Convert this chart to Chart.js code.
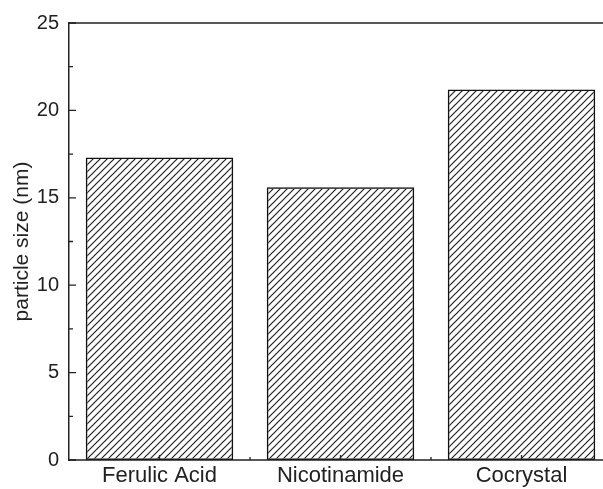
<!DOCTYPE html>
<html>
<head>
<meta charset="utf-8">
<script src="https://cdn.jsdelivr.net/npm/chart.js@4"></script>
<style>
  html, body { margin: 0; padding: 0; background: #fff; overflow: hidden; }
  #wrap { width: 603px; height: 489px; overflow: hidden; }
</style>
</head>
<body>
<div id="wrap"><canvas id="sizeChart" width="620" height="489"></canvas></div>
<script>
const categories = ['Ferulic Acid', 'Nicotinamide', 'Cocrystal'];
const particleSize = [17.3, 15.6, 21.2];
const yTicks = [0, 5, 10, 15, 20, 25];

const axisColor = '#222';
const font = "Arial, 'Liberation Sans', sans-serif";

// diagonal hatch ( / ) for the bars
function makeHatch() {
    const s = 7;
    const c = document.createElement('canvas');
    c.width = s; c.height = s;
    const g = c.getContext('2d');
    g.strokeStyle = '#222';
    g.lineWidth = 1.2;
    g.beginPath();
    g.moveTo(0, s); g.lineTo(s, 0);
    g.moveTo(-1, 1); g.lineTo(1, -1);
    g.moveTo(s - 1, s + 1); g.lineTo(s + 1, s - 1);
    g.stroke();
    return g.createPattern(c, 'repeat');
}

// inward tick marks + top frame line
const frameTicks = {
    id: 'frameTicks',
    afterDraw(chart) {
        const { ctx, chartArea: a, scales: { x, y } } = chart;
        ctx.save();
        ctx.strokeStyle = axisColor;
        ctx.lineWidth = 1.5;
        ctx.beginPath();
        ctx.moveTo(a.left, a.top); ctx.lineTo(a.right + 20, a.top);
        ctx.moveTo(a.left, a.bottom); ctx.lineTo(a.right + 20, a.bottom);
        ctx.stroke();
        ctx.lineWidth = 1.3;
        ctx.beginPath();
        yTicks.forEach(v => {
            const py = y.getPixelForValue(v);
            ctx.moveTo(a.left, py); ctx.lineTo(a.left + 7, py);
            if (v < 25) {
                const pm = y.getPixelForValue(v + 2.5);
                ctx.moveTo(a.left, pm); ctx.lineTo(a.left + 4, pm);
            }
        });
        categories.forEach((c, i) => {
            const px = x.getPixelForValue(i);
            ctx.moveTo(px, a.bottom); ctx.lineTo(px, a.bottom - 5);
            const pb = x.getPixelForValue(i + 0.5);
            ctx.moveTo(pb, a.bottom); ctx.lineTo(pb, a.bottom - 3);
        });
        ctx.stroke();
        ctx.restore();
    }
};

const ctx = document.getElementById('sizeChart').getContext('2d');
new Chart(ctx, {
    type: 'bar',
    data: {
        labels: categories,
        datasets: [{
            data: particleSize,
            backgroundColor: makeHatch(),
            borderColor: '#111',
            borderWidth: 1.5,
            borderSkipped: false,
            categoryPercentage: 1.0,
            barPercentage: 0.815
        }]
    },
    options: {
        responsive: false,
        animation: false,
        layout: { padding: { top: 23, right: 8, left: 0, bottom: 0 } },
        plugins: {
            legend: { display: false },
            tooltip: { enabled: false }
        },
        scales: {
            x: {
                grid: { display: false, drawTicks: false },
                border: { display: false },
                ticks: { color: '#222', padding: 3, font: { family: font, size: 22 } },
                afterFit: s => { s.height = 29; }
            },
            y: {
                min: 0,
                max: 25,
                grid: { display: false, drawTicks: false },
                border: { display: true, color: axisColor, width: 1.5 },
                ticks: {
                    stepSize: 5,
                    color: '#222',
                    padding: 10,
                    font: { family: font, size: 20 }
                },
                title: {
                    display: true,
                    text: 'particle size (nm)',
                    color: '#222',
                    padding: { top: 10, bottom: 0 },
                    font: { family: font, size: 21 }
                },
                afterFit: s => { s.width = 69; }
            }
        }
    },
    plugins: [frameTicks]
});
</script>
</body>
</html>
